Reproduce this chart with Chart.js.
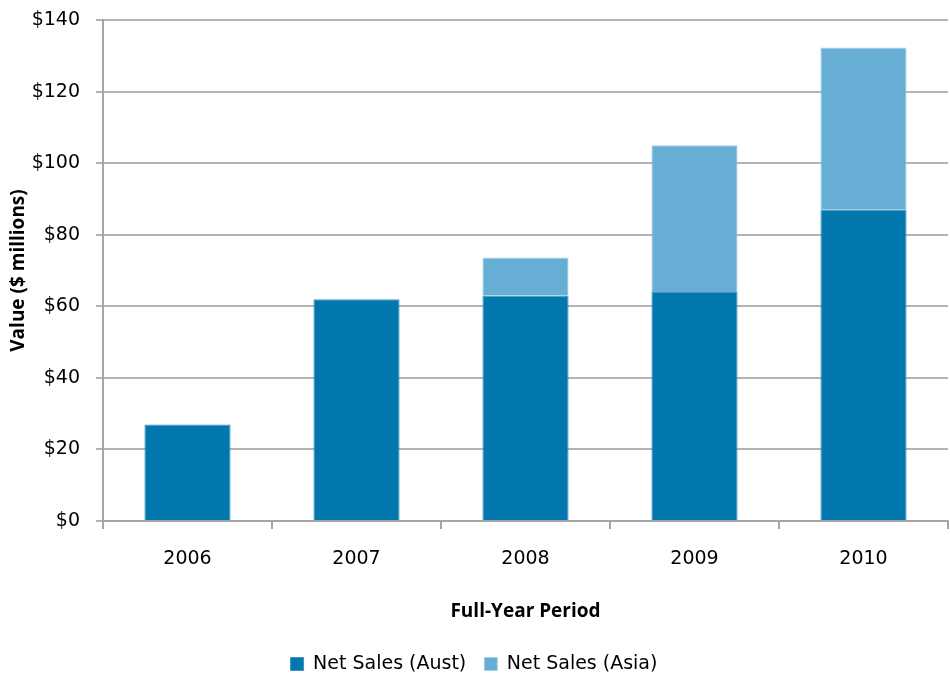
<!DOCTYPE html>
<html>
<head>
<meta charset="utf-8">
<script src="https://cdn.jsdelivr.net/npm/chart.js@4.4.1/dist/chart.umd.min.js"></script>
<style>
  html, body { margin: 0; padding: 0; background: #fff; }
  #wrap { width: 950px; height: 675px; }
</style>
</head>
<body>
<div id="wrap"><canvas id="sales-chart" width="950" height="675"></canvas></div>
<script>
// Chart data
const years = ['2006', '2007', '2008', '2009', '2010'];
const salesAust = [27, 62, 63, 64, 87];
const salesAsia = [0, 0, 10.6, 41, 45.3];

const TICK_FONT = "'DejaVu Sans', sans-serif";
const TITLE_FONT = "'Open Sans', sans-serif";
Chart.defaults.color = '#000';
Chart.defaults.font.family = TICK_FONT;

const ctx = document.getElementById('sales-chart').getContext('2d');

new Chart(ctx, {
  type: 'bar',
  data: {
    labels: years,
    datasets: [
      {
        label: 'Net Sales (Aust)',
        data: salesAust,
        backgroundColor: '#0177AD',
        borderColor: '#3D97C2',
        borderWidth: 1,
        barPercentage: 0.51,
        categoryPercentage: 1
      },
      {
        label: 'Net Sales (Asia)',
        data: salesAsia,
        backgroundColor: '#66AED3',
        borderColor: '#A9D0E6',
        borderWidth: 1,
        barPercentage: 0.51,
        categoryPercentage: 1
      }
    ]
  },
  options: {
    responsive: false,
    animation: false,
    layout: { padding: { top: 20, right: 2, left: 0, bottom: -8.5 } },
    plugins: {
      legend: {
        position: 'bottom',
        labels: { boxWidth: 13, boxHeight: 13, padding: 18, font: { size: 19 }, color: '#000' }
      },
      tooltip: { enabled: false }
    },
    scales: {
      x: {
        stacked: true,
        grid: { offset: true, drawOnChartArea: false, drawTicks: true, tickLength: 8, color: '#A6A6A6', lineWidth: 2 },
        border: { color: '#A6A6A6', width: 2 },
        ticks: { padding: 19, font: { size: 19 }, color: '#000' },
        title: {
          display: true, text: 'Full-Year Period',
          font: { family: TITLE_FONT, size: 19, weight: 'bold' }, color: '#000',
          padding: { top: 0, bottom: 14 }
        },
        afterFit: (scale) => { scale.height = 115.5; }
      },
      y: {
        stacked: true,
        min: 0,
        max: 140,
        ticks: {
          stepSize: 20,
          padding: 16,
          font: { size: 19 },
          color: '#000',
          callback: (v) => '$' + v
        },
        grid: { color: '#B3B3B3', lineWidth: 2, tickLength: 7 },
        border: { color: '#A6A6A6', width: 2 },
        title: {
          display: true, text: 'Value ($ millions)',
          font: { family: TITLE_FONT, size: 19, weight: 'bold' }, color: '#000',
          padding: { top: 7, bottom: 6 }
        },
        afterFit: (scale) => {
          scale.width = 103;
          scale.paddingTop = 0;
          scale.paddingBottom = 0;
        }
      }
    }
  }
});
</script>
</body>
</html>
